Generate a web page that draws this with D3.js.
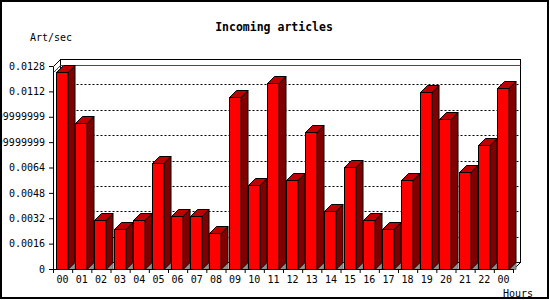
<!DOCTYPE html>
<html>
<head>
<meta charset="utf-8">
<script src="https://cdn.jsdelivr.net/npm/d3@7"></script>
<style>
  html, body { margin: 0; padding: 0; background: #fff; }
  svg { display: block; }
  text { font-family: "DejaVu Sans Mono", monospace; fill: #000; }
</style>
</head>
<body>
<svg id="chart" width="550" height="300"></svg>
<script>
// Incoming articles per hour, 3D bar chart (JpGraph style)

const hours = ["00", "01", "02", "03", "04", "05", "06", "07", "08", "09", "10", "11",
               "12", "13", "14", "15", "16", "17", "18", "19", "20", "21", "22", "00"];
const artPerSec = [0.01242, 0.00919, 0.00309, 0.00252, 0.00309, 0.00666, 0.00332, 0.00332,
                   0.00225, 0.01083, 0.00528, 0.01171, 0.00559, 0.00862, 0.00366, 0.00641,
                   0.00309, 0.00252, 0.00559, 0.01114, 0.00944, 0.00610, 0.00782, 0.01139];
const yTicks = [0, 0.0016, 0.0032, 0.0048, 0.0064, 0.008, 0.0096, 0.0112, 0.0128];
const yTickLabels = ["0", "0.0016", "0.0032", "0.0048", "0.0064", "0.0079999999999999",
                     "0.0095999999999999", "0.0112", "0.0128"];

const svg = d3.select("#chart");
const W = 550, H = 300;
const plotL = 53, plotR = 513, plotT = 66, plotB = 269;
const depth = 7;

const idx = d3.range(hours.length);
const x = d3.scaleBand().domain(idx).range([plotL, plotR]);
const xEdge = d3.scaleLinear().domain([0, hours.length]).range([plotL, plotR]);
const y = d3.scaleLinear().domain([0, 0.0128]).range([plotB, plotT]);

svg.append("rect").attr("width", W).attr("height", H).attr("fill", "#fff");

// back plane
const bx0 = plotL + 0.5 + depth, bx1 = plotR + 0.5 + depth;
svg.append("g").attr("class", "grid")
  .selectAll("line")
  .data(yTicks.slice(1, -1))
  .join("line")
    .attr("x1", bx0).attr("x2", bx1)
    .attr("y1", d => Math.round(y(d)) + 0.5 - depth)
    .attr("y2", d => Math.round(y(d)) + 0.5 - depth)
    .attr("stroke", "#000")
    .attr("stroke-dasharray", "2 2");

svg.append("rect")
  .attr("x", bx0).attr("y", plotT + 0.5 - depth)
  .attr("width", bx1 - bx0).attr("height", plotB - plotT)
  .attr("fill", "none").attr("stroke", "#000");

// connecting diagonals of the 3D frame
svg.append("line")
  .attr("x1", plotL + 0.5).attr("y1", plotT + 0.5)
  .attr("x2", bx0).attr("y2", plotT + 0.5 - depth)
  .attr("stroke", "#000");
svg.append("line")
  .attr("x1", plotR + 0.5).attr("y1", plotB + 0.5)
  .attr("x2", bx1).attr("y2", plotB + 0.5 - depth)
  .attr("stroke", "#000");

// max line
const maxV = d3.max(artPerSec);
const my = Math.round(y(maxV)) + 0.5;
svg.append("line")
  .attr("x1", bx0).attr("x2", bx1)
  .attr("y1", my - depth).attr("y2", my - depth)
  .attr("stroke", "#ff0000");
svg.append("line")
  .attr("x1", plotL + 0.5).attr("y1", my)
  .attr("x2", bx0).attr("y2", my - depth)
  .attr("stroke", "#ff0000");

// bars
const bw = x.bandwidth() * 0.6;
const bars = svg.append("g").attr("class", "bars")
  .selectAll("g")
  .data(artPerSec)
  .join("g");

bars.each(function (v, i) {
  const g = d3.select(this);
  const x0 = Math.round(x(i) + x.bandwidth() * 0.16) + 0.5;
  const x1 = Math.round(x0 + bw);
  const yt = Math.round(y(v)) + 0.5;
  const yb = plotB + 0.5;

  g.append("polygon")
    .attr("points", [[x1, yb], [x1 + depth, yb - depth], [x1 + depth, yb]].join(" "))
    .attr("fill", "#909090").attr("stroke", "#707070");

  g.append("polygon")
    .attr("points", [[x1, yt], [x1 + depth, yt - depth], [x1 + depth, yb - depth], [x1, yb]].join(" "))
    .attr("fill", "#800000").attr("stroke", "#000");

  g.append("polygon")
    .attr("points", [[x0, yt], [x0 + depth, yt - depth], [x1 + depth, yt - depth], [x1, yt]].join(" "))
    .attr("fill", "#c00000").attr("stroke", "#000");

  g.append("rect")
    .attr("x", x0).attr("y", yt)
    .attr("width", x1 - x0).attr("height", yb - yt)
    .attr("fill", "#ff0000").attr("stroke", "#000");
});

// axes
const yAxis = svg.append("g")
  .attr("transform", `translate(${plotL},0)`)
  .call(d3.axisLeft(y).tickValues(yTicks)
    .tickFormat((d, i) => yTickLabels[i])
    .tickSize(4).tickSizeOuter(0).tickPadding(4));
yAxis.selectAll("text").attr("font-size", 10).attr("font-family", "DejaVu Sans Mono");

svg.append("g")
  .attr("transform", `translate(0,${plotB})`)
  .call(d3.axisBottom(xEdge).tickValues(d3.range(hours.length + 1))
    .tickFormat("").tickSize(4).tickSizeOuter(0));

const xAxis = svg.append("g")
  .attr("transform", `translate(0,${plotB})`)
  .call(d3.axisBottom(x).tickFormat(i => hours[i]).tickSize(0).tickPadding(7));
xAxis.select(".domain").remove();
xAxis.selectAll("text").attr("font-size", 10).attr("font-family", "DejaVu Sans Mono");

svg.selectAll(".domain, .tick line").attr("stroke", "#000");

// titles
svg.append("text")
  .attr("x", 274).attr("y", 31)
  .attr("text-anchor", "middle")
  .attr("font-size", 11.5).attr("font-weight", "bold")
  .text("Incoming articles");

svg.append("text")
  .attr("x", 30).attr("y", 40.5)
  .attr("font-size", 10)
  .text("Art/sec");

svg.append("text")
  .attr("x", 533).attr("y", 296.5)
  .attr("text-anchor", "end")
  .attr("font-size", 10)
  .text("Hours");

// outer frame
svg.append("rect")
  .attr("x", 1).attr("y", 1).attr("width", 547).attr("height", 297)
  .attr("fill", "none").attr("stroke", "#000").attr("stroke-width", 2);
</script>
</body>
</html>
